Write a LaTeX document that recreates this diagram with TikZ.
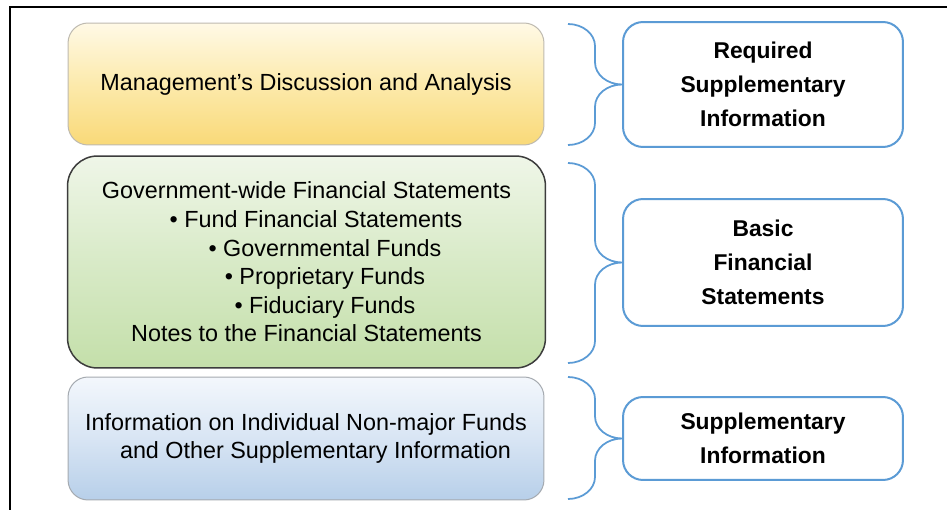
\documentclass[tikz,border=0pt]{standalone}
\usepackage{fontspec}
\setmainfont{Liberation Sans}
\usetikzlibrary{calc}

\definecolor{linkblue}{RGB}{91,155,213}
\definecolor{mdatop}{RGB}{255,249,230}
\definecolor{mdamid}{RGB}{252,234,172}
\definecolor{mdabot}{RGB}{249,217,120}
\definecolor{mdaline}{RGB}{190,186,176}
\definecolor{bfstop}{RGB}{239,246,232}
\definecolor{bfsmid}{RGB}{216,234,199}
\definecolor{bfsbot}{RGB}{196,223,170}
\definecolor{bfsline}{RGB}{60,60,60}
\definecolor{ositop}{RGB}{243,247,252}
\definecolor{osimid}{RGB}{216,229,244}
\definecolor{osibot}{RGB}{183,207,233}
\definecolor{osiline}{RGB}{165,170,176}

\begin{document}
\begin{tikzpicture}[x=0.02cm,y=-0.02cm,
	leftbox/.style={minimum width=9.52cm,align=center,font=\fontsize{13.3}{16.3}\selectfont},
	rightbox/.style={draw=linkblue,line width=.04cm,rounded corners=.4cm,minimum width=5.6cm,align=center,font=\fontsize{13}{19.4}\selectfont\bfseries},
	brace/.style={draw=linkblue,line width=.035cm}]
\clip (0,0) rectangle (947,510);
\fill[white] (0,0) rectangle (947,510);
\draw[line width=.04cm,black] (10,530) -- (10,7) -- (960,7);

% left column
\node[leftbox,draw=mdaline,line width=.02cm,rounded corners=.4cm,minimum height=2.44cm,top color=mdatop,bottom color=mdabot,middle color=mdamid] (mda) at (306,84) {\raisebox{-2pt}{Management's Discussion and Analysis}};
\node[leftbox,draw=bfsline,line width=.03cm,rounded corners=.6cm,minimum height=4.24cm,minimum width=9.56cm,top color=bfstop,bottom color=bfsbot,middle color=bfsmid] (bfs) at (306.5,262) {Government-wide Financial Statements\\
	\hspace*{0.38cm}\textbullet\ Fund Financial Statements\\
	\hspace*{0.74cm}\textbullet\ Governmental Funds\\
	\hspace*{0.74cm}\textbullet\ Proprietary Funds\\
	\hspace*{0.74cm}\textbullet\ Fiduciary Funds\\
	Notes to the Financial Statements};
\node[leftbox,draw=osiline,line width=.02cm,rounded corners=.4cm,minimum height=2.46cm,top color=ositop,bottom color=osibot,middle color=osimid] (osi) at (306,438.5) {Information on Individual Non-major Funds\\
	\hspace*{0.38cm}and Other Supplementary Information};

% right column
\node[rightbox,minimum height=2.5cm] (rsi) at (763,84.5) {Required\\Supplementary\\Information};
\node[rightbox,minimum height=2.54cm] (rbfs) at (763,262.5) {Basic\\Financial\\Statements};
\node[rightbox,minimum height=1.66cm] (rsupp) at (763,438.5) {Supplementary\\Information};

% braces
\coordinate (b1top) at (568,24);
\coordinate (b1bot) at (568,145);
\coordinate (b2top) at (568,163);
\coordinate (b2bot) at (568,363);
\coordinate (b3top) at (568,377);
\coordinate (b3bot) at (568,499);
\draw[brace] (b1top) .. controls +(15,0) and +(0,-12) .. ($(b1top)+(27,22)$) -- ($(rsi.west)+(-27,-22)$) .. controls +(0,12) and +(-15,0) .. (rsi.west) .. controls +(-15,0) and +(0,-12) .. ($(rsi.west)+(-27,22)$) -- ($(b1bot)+(27,-22)$) .. controls +(0,12) and +(15,0) .. (b1bot);
\draw[brace] (b2top) .. controls +(15,0) and +(0,-12) .. ($(b2top)+(27,22)$) -- ($(rbfs.west)+(-27,-22)$) .. controls +(0,12) and +(-15,0) .. (rbfs.west) .. controls +(-15,0) and +(0,-12) .. ($(rbfs.west)+(-27,22)$) -- ($(b2bot)+(27,-22)$) .. controls +(0,12) and +(15,0) .. (b2bot);
\draw[brace] (b3top) .. controls +(15,0) and +(0,-12) .. ($(b3top)+(27,22)$) -- ($(rsupp.west)+(-27,-22)$) .. controls +(0,12) and +(-15,0) .. (rsupp.west) .. controls +(-15,0) and +(0,-12) .. ($(rsupp.west)+(-27,22)$) -- ($(b3bot)+(27,-22)$) .. controls +(0,12) and +(15,0) .. (b3bot);
\end{tikzpicture}
\end{document}
